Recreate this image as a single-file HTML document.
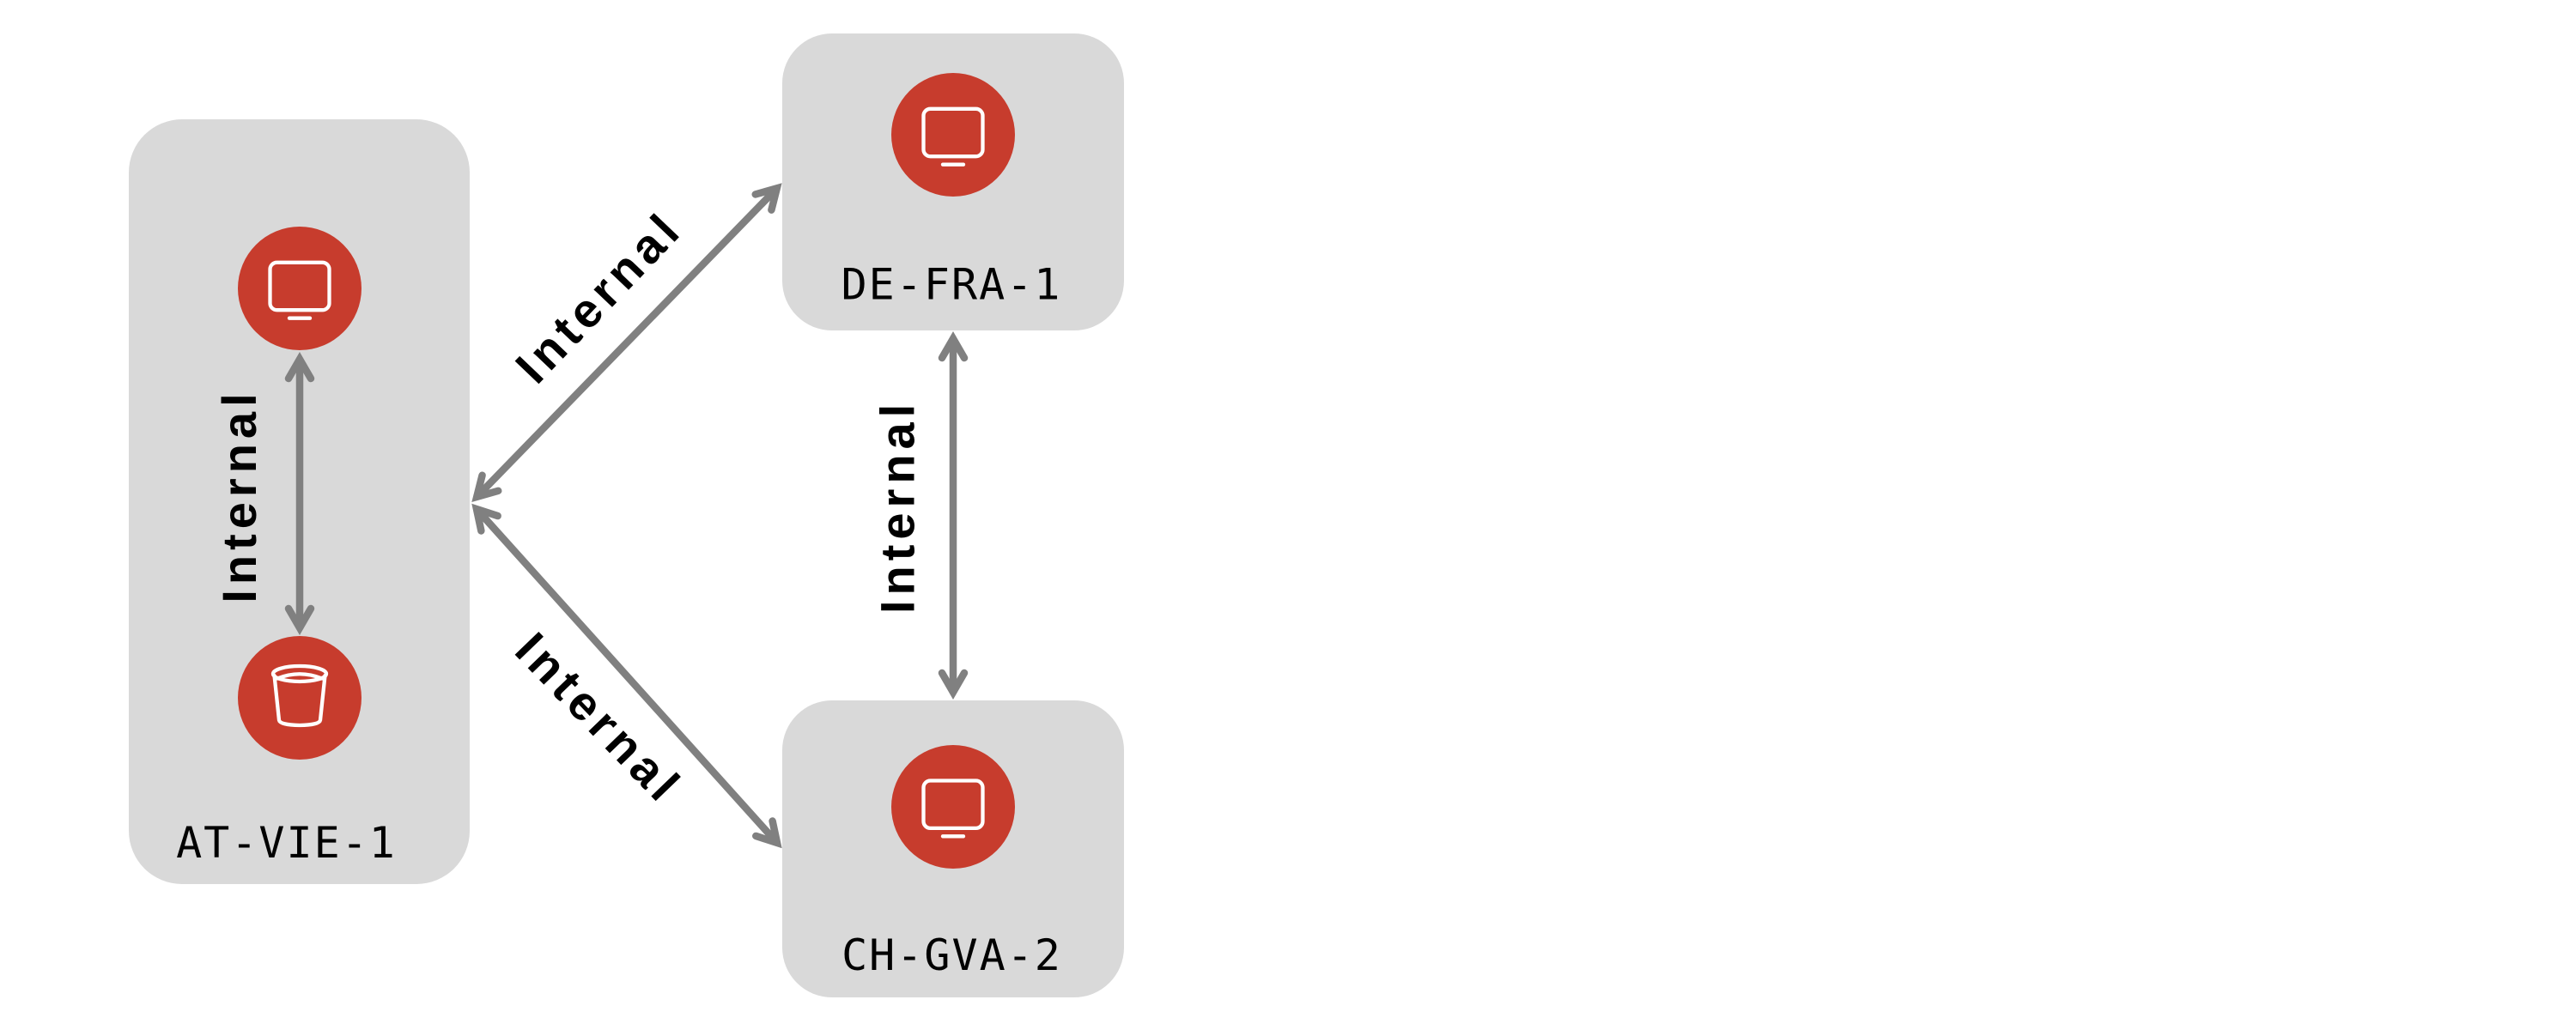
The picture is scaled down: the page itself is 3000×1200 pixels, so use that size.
<!DOCTYPE html>
<html>
<head>
<meta charset="utf-8">
<style>
  html, body { margin: 0; padding: 0; background: #ffffff; }
  svg { display: block; }
  .box { fill: #d9d9d9; }
  .node { fill: #c73c2d; }
  .icon { fill: none; stroke: #ffffff; stroke-width: 4.3; stroke-linecap: round; stroke-linejoin: round; }
  .shaft { fill: none; stroke: #808080; stroke-width: 8.5; stroke-linecap: butt; }
  .head { fill: none; stroke: #808080; stroke-width: 8.5; stroke-linecap: round; stroke-linejoin: miter; stroke-miterlimit: 6; }
  .elabel { font-family: "Liberation Sans", "DejaVu Sans", sans-serif; font-weight: bold; font-size: 56px; letter-spacing: 6px; fill: #000000; }
  .nlabel { font-family: "DejaVu Sans Mono", "Liberation Mono", monospace; font-size: 50px; letter-spacing: 2px; fill: #000000; }
</style>
</head>
<body>
<svg width="3000" height="1200" viewBox="0 0 3000 1200" xmlns="http://www.w3.org/2000/svg">
  <rect x="0" y="0" width="3000" height="1200" fill="#ffffff"/>

  <!-- Cluster boxes -->
  <rect class="box" x="150" y="139" width="397" height="891" rx="62" ry="62"/>
  <rect class="box" x="911" y="39" width="398" height="346" rx="58" ry="58"/>
  <rect class="box" x="911" y="816" width="398" height="346" rx="58" ry="58"/>

  <!-- Nodes -->
  <circle class="node" cx="349" cy="336" r="72"/>
  <circle class="node" cx="349" cy="813" r="72"/>
  <circle class="node" cx="1110" cy="157" r="72"/>
  <circle class="node" cx="1110" cy="940" r="72"/>

  <!-- Monitor icons -->
  <g>
    <rect class="icon" x="314.5" y="305.8" width="69" height="55.4" rx="8" ry="8"/>
    <line class="icon" x1="337" y1="370.7" x2="361" y2="370.7"/>
  </g>
  <g>
    <rect class="icon" x="1075.5" y="126.8" width="69" height="55.4" rx="8" ry="8"/>
    <line class="icon" x1="1098" y1="191.7" x2="1122" y2="191.7"/>
  </g>
  <g>
    <rect class="icon" x="1075.5" y="909.5" width="69" height="55.4" rx="8" ry="8"/>
    <line class="icon" x1="1098" y1="974.3" x2="1122" y2="974.3"/>
  </g>

  <!-- Bucket icon -->
  <g>
    <ellipse class="icon" cx="349" cy="785" rx="31" ry="9"/>
    <path class="icon" d="M 323 790.5 Q 349 780 375 790.5"/>
    <path class="icon" d="M 319.5 787 L 325 839 Q 326 844.5 349 845 Q 372 844.5 373 839 L 378.5 787"/>
  </g>

  <!-- Arrow: AT-VIE internal (vertical) -->
  <line class="shaft" x1="349" y1="418.5" x2="349" y2="731.5"/>
  <polyline class="head" points="336,441 349,418.5 362,441"/>
  <polyline class="head" points="336,709 349,731.5 362,709"/>

  <!-- Arrow: DE-FRA <-> CH-GVA (vertical) -->
  <line class="shaft" x1="1110" y1="394.5" x2="1110" y2="806.5"/>
  <polyline class="head" points="1097,417 1110,394.5 1123,417"/>
  <polyline class="head" points="1097,784 1110,806.5 1123,784"/>

  <!-- Arrow: AT-VIE <-> DE-FRA (diagonal up) -->
  <line class="shaft" x1="555.23" y1="578.91" x2="904.77" y2="219.39"/>
  <polyline class="head" points="898.41,244.58 904.77,219.39 879.77,226.46"/>
  <polyline class="head" points="580.23,571.84 555.23,578.91 561.59,553.72"/>

  <!-- Arrow: AT-VIE <-> CH-GVA (diagonal down) -->
  <line class="shaft" x1="554.99" y1="593.02" x2="905.01" y2="981.98"/>
  <polyline class="head" points="880.30,973.96 905.01,981.98 899.62,956.56"/>
  <polyline class="head" points="560.38,618.44 554.99,593.02 579.70,601.04"/>

  <!-- Edge labels -->
  <g transform="translate(298,580.5) rotate(-90)">
    <text class="elabel" x="3" y="0" text-anchor="middle">Internal</text>
  </g>
  <g transform="translate(1064.3,592.9) rotate(-90)">
    <text class="elabel" x="3" y="0" text-anchor="middle">Internal</text>
  </g>
  <g transform="translate(709.2,361.7) rotate(-46.3)">
    <text class="elabel" x="3" y="0" text-anchor="middle">Internal</text>
  </g>
  <g transform="translate(681.7,848) rotate(46.1)">
    <text class="elabel" x="3" y="0" text-anchor="middle">Internal</text>
  </g>

  <!-- Node labels -->
  <text class="nlabel" x="333.5" y="999" text-anchor="middle">AT-VIE-1</text>
  <text class="nlabel" x="1108" y="348.3" text-anchor="middle">DE-FRA-1</text>
  <text class="nlabel" x="1108.5" y="1130" text-anchor="middle">CH-GVA-2</text>
</svg>
</body>
</html>
